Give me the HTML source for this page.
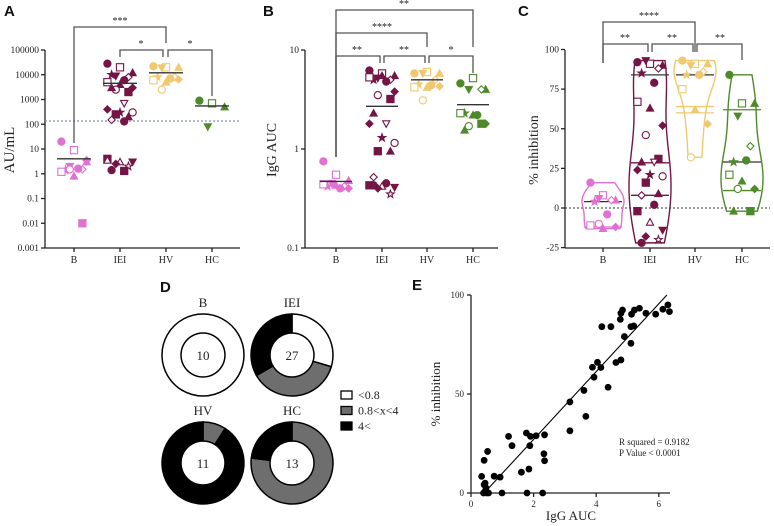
<!DOCTYPE html>
<html><head><meta charset="utf-8"><style>
html,body{margin:0;padding:0;background:#fff;}
svg{display:block;font-family:"Liberation Serif",serif;font-size:9.5px;}
.ax{stroke:#222;stroke-width:1.3;fill:none;}
.br{stroke:#555;stroke-width:1.3;fill:none;}
.tl{fill:#222;}
.pl{font-family:"Liberation Sans",sans-serif;font-weight:bold;font-size:15px;fill:#111;}
</style></head><body>
<svg id="fig" width="774" height="526" viewBox="0 0 774 526" xmlns="http://www.w3.org/2000/svg"></svg>
<script>
// ---------- data ----------
const groups = ["B","IEI","HV","HC"];
const aB = [20,9,3,2,1.5,1.4,1.6,1.2,0.8,3.5,1.5,0.01];
const aIEI = [28000,20000,12000,9000,8000,10000,6000,5000,4000,3000,2500,2000,3000,700,400,300,300,250,200,150,130,4,3,3,2.5,2,1.4,1.3,3.5];
const aHV = [22000,20000,20000,19000,8000,8000,7000,6000,5000,6500,2500];
const aHC = [900,700,500,80];
const aMeans = [4,4500,12000,550];
const bB = [0.75,0.55,0.48,0.45,0.42,0.42,0.4,0.44,0.43,0.4];
const bIEI = [6.2,5.8,5.5,5.2,5,5,4.8,5.3,5.5,3.8,3.5,3.2,2.3,1.8,1.8,1.3,1.15,0.95,0.95,0.52,0.45,0.43,0.42,0.41,0.4,0.35,0.43];
const bHV = [5.8,6,5.8,5.8,5,4.5,4.4,4.2,4.2,4.3,3.1];
const bHC = [4.6,5.2,4,4,4,2.3,2.2,2.3,2.2,1.8,1.7,1.8,1.55];
const bMeans = [0.47,2.7,5,2.8];
const cB = [16,8,5,6,5,4,-4,-11,-13,-12,-10];
const cIEI = [92,91,90,93,88,85,79,67,63,52,46,31,29,29,24,21,20,16,9,8,2,-2,-9,-14,-18,-20,-22];
const cHV = [93,91,91,90,86,84,84,75,62,53,32];
const cHC = [84,66,66,58,39,29,30,21,17,12,12,-2,-2];
const cLines = [[4,-12],[84,28.5,8],[84,64,60],[62,29,11]];
const dCounts = { B:[10,0,0], IEI:[8,10,9], HV:[0,1,10], HC:[0,10,3] };
const dTotals = [10,27,11,13];
const eX = [0.34,0.42,0.45,0.42,0.53,0.5,0.56,0.48,0.74,0.93,0.99,1.2,1.31,1.61,1.79,1.77,1.85,1.88,1.9,2.08,2.29,2.35,2.33,2.35,3.16,3.16,3.61,3.67,3.88,3.93,4.04,4.15,4.18,4.38,4.47,4.63,4.79,4.77,4.79,4.84,4.9,5.11,5.2,5.11,5.13,5.22,5.38,5.59,5.9,6.13,6.29,6.34,0.4,0.45];
const eY = [8.4,4.2,0.8,16.5,21,0,0,2.5,8.5,8,0,28.6,23.9,10.5,0,30.3,12.1,23.9,28.6,28.9,0,29.4,19.8,16.3,46,31.4,51.8,38.7,63.5,58.5,66,63.4,84,53.4,84,65.9,67.2,87.7,90.8,92.4,79,84,84.4,75.6,90.3,92.4,93.3,90.8,90.3,92.8,95,91.6,0,5];
const colors = ["#e070d2","#741545","#f0c870","#4e8a2a"];

// ---------- helpers ----------
const NS="http://www.w3.org/2000/svg";
const svg=document.getElementById('fig');
function mk(tag,attrs,parent){const e=document.createElementNS(NS,tag);for(const k in attrs)e.setAttribute(k,attrs[k]);(parent||svg).appendChild(e);return e;}
function txt(x,y,s,cls,extra){const t=mk('text',Object.assign({x:x,y:y,class:cls||'tl'},extra||{}));t.textContent=s;return t;}
const shapes=['circle','square','tri','tridown','diamond','star','circle','square','tri','diamond'];
function marker(type,cx,cy,col,filled,r){
  r=r||3.6;let e;
  const st={fill:filled?col:'#fff',stroke:col,'stroke-width':1.1};
  if(type==='circle')e=mk('circle',Object.assign({cx:cx,cy:cy,r:r},st));
  else if(type==='square')e=mk('rect',Object.assign({x:cx-r,y:cy-r,width:2*r,height:2*r},st));
  else{let p;
    if(type==='tri')p=[[0,-r],[r,r*0.8],[-r,r*0.8]];
    else if(type==='tridown')p=[[0,r],[r,-r*0.8],[-r,-r*0.8]];
    else if(type==='diamond')p=[[0,-r],[r,0],[0,r],[-r,0]];
    else {p=[];for(let i=0;i<10;i++){const a=-Math.PI/2+i*Math.PI/5,rr=i%2?r*0.45:r*1.1;p.push([rr*Math.cos(a),rr*Math.sin(a)]);}}
    e=mk('polygon',Object.assign({points:p.map(q=>(cx+q[0])+','+(cy+q[1])).join(' ')},st));}
  return e;
}
function bracket(x1,x2,y,e1,e2,label,lx){
  const p=mk('path',{d:`M${x1},${e1} L${x1},${y} L${x2},${y} L${x2},${e2}`,class:'br'});
  
  
  const t=txt(lx!==undefined?lx:(x1+x2)/2,y-3,label,'tl',{'text-anchor':'middle','font-size':'10px'});
  
  
}
function yLabel(x,y,s,fs){const t=txt(x,y,s,'tl',{'text-anchor':'middle','font-size':(fs||14)+'px',transform:`rotate(-90 ${x} ${y})`});}
function panelLetter(x,y,s){const t=txt(x,y,s,'pl');}
function catAxis(ax,x0,x1,yb,catX){
  mk('line',{x1:x0,y1:yb,x2:x1,y2:yb,class:'ax'});
  catX.forEach((cx,i)=>{mk('line',{x1:cx,y1:yb,x2:cx,y2:yb+4,class:'ax'});
    const t=txt(cx,yb+15,groups[i],'tl',{'text-anchor':'middle','font-size':'10px'});
    });
}
function jit(i){return ((i*3)%7-3)*4.2;}
function scatterGroup(vals,cx,ys,col){vals.forEach((v,i)=>{const m=marker(shapes[i%shapes.length],cx+jit(i),ys(v),col,i%3!==1);
  });}
function meanLine(cx,y,w){const l=mk('line',{x1:cx-w,y1:y,x2:cx+w,y2:y,stroke:'#333','stroke-width':1.4});}

// ---------- Panel A ----------
panelLetter(4,16,'A');
const yA=v=>248-(Math.log10(v)+3)*24.75;
const xA=[74,120,166,212];
mk('line',{x1:45,y1:50,x2:45,y2:248,class:'ax'});
["0.001","0.01","0.1","1","10","100","1000","10000","100000"].forEach(s=>{const y=yA(parseFloat(s));mk('line',{x1:41,y1:y,x2:45,y2:y,class:'ax'});const t=txt(39,y+3,s,'tl',{'text-anchor':'end'});});
catAxis('A',45,240,248,xA);
yLabel(14,150,'AU/mL',15);
const thr=mk('line',{x1:45,y1:121,x2:240,y2:121,stroke:'#8090c0','stroke-width':1.2,'stroke-dasharray':'2,2'});

[aB,aIEI,aHV,aHC].forEach((arr,g)=>scatterGroup(arr,xA[g],yA,colors[g]));
aMeans.forEach((m,g)=>meanLine(xA[g],yA(m),17));
bracket(74,166,27,143,43,'***',120);
bracket(120,163,50,57,57,'*',141);
bracket(168,212,50,57,96,'*',190);

// ---------- Panel B ----------
panelLetter(263,16,'B');
const yB=v=>248-(Math.log10(v)+1)*99;
const xB=[336,382,427,473];
mk('line',{x1:305,y1:50,x2:305,y2:248,class:'ax'});
["0.1","1","10"].forEach(s=>{const y=yB(parseFloat(s));mk('line',{x1:301,y1:y,x2:305,y2:y,class:'ax'});const t=txt(299,y+3,s,'tl',{'text-anchor':'end'});});
catAxis('B',305,498,248,xB);
yLabel(276,150,'IgG AUC',14);
[bB,bIEI,bHV,bHC].forEach((arr,g)=>scatterGroup(arr,xB[g],yB,colors[g]));
bMeans.forEach((m,g)=>meanLine(xB[g],yB(m),16));
bracket(336,473,10,157,47,'**',404);
bracket(336,427,33,157,47,'****',382);
bracket(336,380,56,157,63,'**',357);
bracket(384,425,56,63,63,'**',404);
bracket(429,473,56,63,73,'*',451);

// ---------- Panel C ----------
panelLetter(518,16,'C');
const yC=v=>208-v*1.585;
const xC=[603,650,695,742];
mk('line',{x1:565,y1:50,x2:565,y2:248,class:'ax'});
["-25","0","25","50","75","100"].forEach(s=>{const y=yC(parseFloat(s));mk('line',{x1:561,y1:y,x2:565,y2:y,class:'ax'});const t=txt(559,y+3,s,'tl',{'text-anchor':'end'});});
catAxis('C',565,770,248,xC);
yLabel(538,150,'% inhibition',14);
const zl=mk('line',{x1:565,y1:yC(0),x2:770,y2:yC(0),stroke:'#333','stroke-width':1,'stroke-dasharray':'2,2'});

[cB,cIEI,cHV,cHC].forEach((arr,g)=>{
  const mn=Math.min(...arr),mx=Math.max(...arr),bw=(mx-mn)/6+2;
  const n=40,pts=[];let dmax=0;
  for(let i=0;i<=n;i++){const v=mn+(mx-mn)*i/n;let d=0;arr.forEach(a=>d+=Math.exp(-0.5*((v-a)/bw)**2));pts.push([v,d]);dmax=Math.max(dmax,d);}
  const W=21;
  let dstr=pts.map((p,i)=>(i?'L':'M')+(xC[g]+(4+p[1]/dmax*(W-4)))+','+yC(p[0])).join(' ');
  dstr+=' '+pts.slice().reverse().map(p=>'L'+(xC[g]-(4+p[1]/dmax*(W-4)))+','+yC(p[0])).join(' ')+' Z';
  const vi=mk('path',{d:dstr,fill:'none',stroke:colors[g],'stroke-width':1.4});
  
  cLines[g].forEach((v,k)=>{const l=mk('line',{x1:xC[g]-19,y1:yC(v),x2:xC[g]+19,y2:yC(v),stroke:(k===0&&g!==3)||(k===1&&g===3)?'#333':colors[g],'stroke-width':1.3});
    });
  scatterGroup(arr,xC[g],yC,colors[g]);
});
bracket(603,695,22,63,52,'****',649);
bracket(603,648,44,63,52,'**',625);
bracket(652,693,44,52,52,'**',672);
bracket(697,742,44,52,60,'**',720);

// ---------- Panel D ----------
panelLetter(160,292,'D');
const dCenters=[[203,355],[292,355],[203,463],[292,463]];
const dFill=['#fff','#6e6e6e','#000'];
groups.forEach((g,gi)=>{
  const [cx,cy]=dCenters[gi];const counts=dCounts[g];const tot=counts.reduce((a,b)=>a+b,0);
  const R=41,r=22;let a0=0;
  counts.forEach((c,k)=>{if(!c)return;const a1=a0+c/tot*2*Math.PI;
    const P=(rad,a)=>[cx+rad*Math.sin(a),cy-rad*Math.cos(a)];
    let d;
    if(c===tot){d=`M${cx},${cy-R} A${R},${R} 0 1 1 ${cx-0.01},${cy-R} Z M${cx},${cy-r} A${r},${r} 0 1 1 ${cx-0.01},${cy-r} Z`;}
    else{const lg=(a1-a0)>Math.PI?1:0;const p1=P(R,a0),p2=P(R,a1),p3=P(r,a1),p4=P(r,a0);
      d=`M${p1} A${R},${R} 0 ${lg} 1 ${p2} L${p3} A${r},${r} 0 ${lg} 0 ${p4} Z`;}
    const s=mk('path',{d:d,fill:dFill[k],stroke:'#000','stroke-width':1.5,'fill-rule':'evenodd'});
    
    a0=a1;});
  const t=txt(cx,cy-48,g,'tl',{'text-anchor':'middle','font-size':'13px'});
  
  const n=txt(cx,cy+5,String(dTotals[gi]),'tl',{'text-anchor':'middle','font-size':'13px'});
  
});
[['<0.8','#fff'],['0.8<x<4','#6e6e6e'],['4<','#000']].forEach((it,i)=>{
  const y=391+i*15.5;
  const r=mk('rect',{x:341,y:y,width:11,height:8,fill:it[1],stroke:'#000','stroke-width':1.3});
  
  const t=txt(358,y+8,it[0],'tl',{'font-size':'12px'});
  
});

// ---------- Panel E ----------
panelLetter(412,290,'E');
const xE=v=>471+v*31.3, yE=v=>493-v*1.98;
mk('line',{x1:471,y1:295,x2:471,y2:493,class:'ax'});
mk('line',{x1:471,y1:493,x2:670,y2:493,class:'ax'});
[0,50,100].forEach(v=>{mk('line',{x1:467,y1:yE(v),x2:471,y2:yE(v),class:'ax'});const t=txt(464,yE(v)+3,String(v),'tl',{'text-anchor':'end','font-size':'9px'});});
[0,2,4,6].forEach(v=>{mk('line',{x1:xE(v),y1:493,x2:xE(v),y2:497,class:'ax'});const t=txt(xE(v),507,String(v),'tl',{'text-anchor':'middle','font-size':'9px'});});
const xt=txt(571,520,'IgG AUC','tl',{'text-anchor':'middle','font-size':'13px'});

yLabel(440,394,'% inhibition',13);
eX.forEach((x,i)=>{const c=mk('circle',{cx:xE(x),cy:yE(eY[i]),r:3.4,fill:'#000'});
  });
(function(){const n=eX.length;const mx=eX.reduce((a,b)=>a+b)/n,my=eY.reduce((a,b)=>a+b)/n;
  let sxy=0,sxx=0;eX.forEach((x,i)=>{sxy+=(x-mx)*(eY[i]-my);sxx+=(x-mx)**2;});
  const b=sxy/sxx,a=my-b*mx;const x0=Math.max(-a/b,0),x1=Math.min((100-a)/b,6.4);
  const l=mk('line',{x1:xE(x0),y1:yE(a+b*x0),x2:xE(x1),y2:yE(a+b*x1),stroke:'#000','stroke-width':1.1});
  })();
const r1=txt(619,445,'R squared = 0.9182','tl',{'font-size':'9px'});

const r2=txt(619,456,'P Value < 0.0001','tl',{'font-size':'9px'});

</script>
</body></html>
